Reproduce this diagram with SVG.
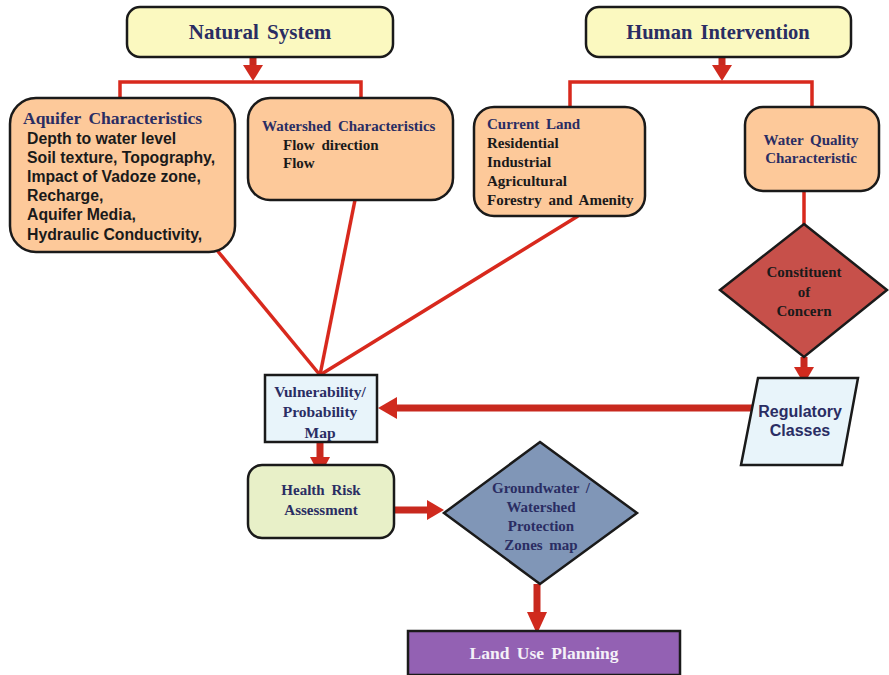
<svg xmlns="http://www.w3.org/2000/svg" width="889" height="675" viewBox="0 0 889 675">
<defs>
<style>
.box{stroke:#1a1a1a;stroke-width:2.5}
.top{fill:#fbf9c0}
.org{fill:#fdc99a}
.t{font-family:"Liberation Serif",serif;font-weight:bold;word-spacing:3px}
.navy{fill:#2a2d63}
.blk{fill:#1a1a1a}
.sans{font-family:"Liberation Sans",Arial,sans-serif;font-weight:bold}
.ln{stroke:#d8291d;stroke-width:3.5;fill:none}
.thick{stroke:#c8291e;fill:none}
.head{fill:#d02a1e}
</style>
</defs>
<rect width="889" height="675" fill="#ffffff"/>
<g id="connectors">
<line class="thick" x1="253" y1="57" x2="253" y2="68" stroke-width="7"/>
<polygon class="head" points="243,65 263,65 253,81"/>
<polyline class="ln" points="120,99 120,82 361,82 361,99"/>
<line class="thick" x1="722" y1="57" x2="722" y2="68" stroke-width="7"/>
<polygon class="head" points="712,65 732,65 722,81"/>
<polyline class="ln" points="570,107 570,82 812,82 812,107"/>
<line class="ln" x1="216" y1="249" x2="320" y2="375"/>
<line class="ln" x1="355" y1="200" x2="320" y2="375"/>
<line class="ln" x1="578" y1="216" x2="320" y2="375"/>
<line class="ln" x1="804" y1="191" x2="804" y2="224"/>
<line class="thick" x1="804" y1="357" x2="804" y2="370" stroke-width="7"/>
<polygon class="head" points="794,367 814,367 804,384"/>
<line class="thick" x1="753" y1="408" x2="393" y2="408" stroke-width="7"/>
<polygon class="head" points="378,408 397,397 397,419"/>
<line class="thick" x1="320" y1="442" x2="320" y2="460" stroke-width="7"/>
<polygon class="head" points="310,457 330,457 320,476"/>
<line class="thick" x1="386" y1="510" x2="430" y2="510" stroke-width="7"/>
<polygon class="head" points="444,510 427,500 427,520"/>
<line class="thick" x1="537" y1="584" x2="537" y2="616" stroke-width="7"/>
<polygon class="head" points="527,612 547,612 537,634"/>
</g>
<g id="natural-system">
<rect class="box top" x="127" y="7" width="266" height="50" rx="13"/>
<text class="t navy" x="260" y="39" font-size="21" text-anchor="middle">Natural System</text>
</g>
<g id="human-intervention">
<rect class="box top" x="586" y="7" width="265" height="50" rx="13"/>
<text class="t navy" x="718" y="39" font-size="20.5" text-anchor="middle">Human Intervention</text>
</g>
<g id="aquifer">
<rect class="box org" x="10" y="98" width="225" height="154" rx="26"/>
<text class="t navy" x="23" y="124" font-size="17.5">Aquifer Characteristics</text>
<g class="sans blk" font-size="15.8">
<text x="27" y="144">Depth to water level</text>
<text x="27" y="163">Soil texture, Topography,</text>
<text x="27" y="182">Impact of Vadoze zone,</text>
<text x="27" y="201">Recharge,</text>
<text x="27" y="220">Aquifer Media,</text>
<text x="27" y="240">Hydraulic Conductivity,</text>
</g>
</g>
<g id="watershed">
<rect class="box org" x="248" y="98" width="205" height="102" rx="22"/>
<text class="t navy" x="262" y="131" font-size="15">Watershed Characteristics</text>
<text class="t blk" x="283" y="150" font-size="15">Flow direction</text>
<text class="t blk" x="283" y="168" font-size="15">Flow</text>
</g>
<g id="current-land">
<rect class="box org" x="474" y="107" width="171" height="109" rx="20"/>
<text class="t navy" x="487" y="129" font-size="15">Current Land</text>
<g class="t blk" font-size="15">
<text x="487" y="148">Residential</text>
<text x="487" y="167">Industrial</text>
<text x="487" y="186">Agricultural</text>
<text x="487" y="205">Forestry and Amenity</text>
</g>
</g>
<g id="water-quality">
<rect class="box org" x="745" y="107" width="134" height="84" rx="18"/>
<text class="t navy" x="811" y="145" font-size="15" text-anchor="middle">Water Quality</text>
<text class="t navy" x="811" y="163" font-size="15" text-anchor="middle">Characteristic</text>
</g>
<g id="constituent">
<polygon class="box" fill="#c7504a" points="804,224 887,290 804,357 720,290"/>
<g class="t blk" font-size="15" text-anchor="middle">
<text x="804" y="277">Constituent</text>
<text x="804" y="297">of</text>
<text x="804" y="316">Concern</text>
</g>
</g>
<g id="regulatory">
<polygon class="box" fill="#e8f4fa" points="758,378 858,378 842,465 741,465"/>
<text class="sans navy" x="800" y="417" font-size="16" text-anchor="middle">Regulatory</text>
<text class="sans navy" x="800" y="436" font-size="16" text-anchor="middle">Classes</text>
</g>
<g id="vulnerability">
<rect class="box" fill="#e8f4fa" x="265" y="375" width="112" height="67"/>
<g class="t navy" font-size="15.5" text-anchor="middle">
<text x="320" y="397">Vulnerability/</text>
<text x="320" y="417">Probability</text>
<text x="320" y="438">Map</text>
</g>
</g>
<g id="health-risk">
<rect class="box" fill="#e8f0c8" x="248" y="465" width="146" height="73" rx="14"/>
<text class="t navy" x="321" y="495" font-size="15" text-anchor="middle">Health Risk</text>
<text class="t navy" x="321" y="515" font-size="15" text-anchor="middle">Assessment</text>
</g>
<g id="groundwater">
<polygon class="box" fill="#8096b7" points="540,442 637,513 540,584 444,513"/>
<g class="t navy" font-size="15" text-anchor="middle">
<text x="541" y="493">Groundwater /</text>
<text x="541" y="512">Watershed</text>
<text x="541" y="531">Protection</text>
<text x="541" y="550">Zones map</text>
</g>
</g>
<g id="land-use">
<rect class="box" fill="#9361b3" x="408" y="631" width="272" height="44"/>
<text class="t" fill="#f4f0f8" x="544" y="659" font-size="17.5" text-anchor="middle">Land Use Planning</text>
</g>
</svg>
